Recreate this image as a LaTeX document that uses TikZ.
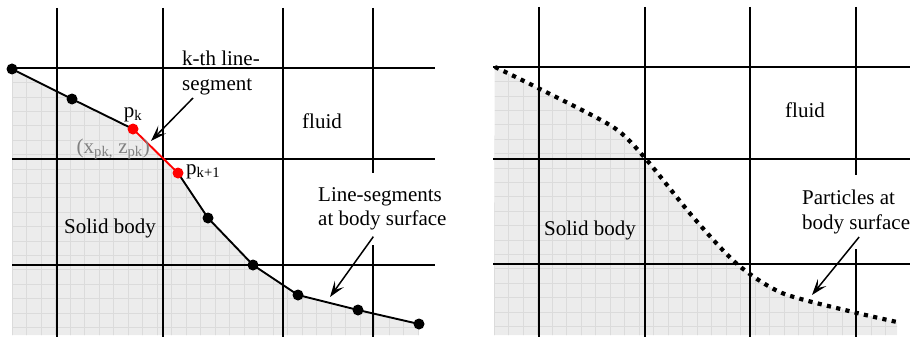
\documentclass[tikz,border=0pt]{standalone}
\usepackage{fontspec}
\setmainfont{Liberation Serif}
\usetikzlibrary{arrows.meta}
\tikzset{
  gridline/.style={line width=2.2pt, black},
  boldgrid/.style={line width=2.7pt, black},
  finegrid/.style={gray!28, line width=0.5pt},
  body/.style={fill=gray!15},
  surfline/.style={line width=1.9pt},
  surfdot/.style={circle, fill=black, inner sep=0pt, minimum size=11pt},
  reddot/.style={circle, fill=red, inner sep=0pt, minimum size=11pt},
  dotline/.style={line width=4.2pt, dash pattern=on 4.2pt off 5.3pt},
  callout/.style={align=left, fill=white, inner xsep=2pt, inner ysep=15pt},
  arrow/.style={line width=1.5pt, -{Stealth[length=16pt,width=11pt,inset=7pt]}}
}

\begin{document}
\begin{tikzpicture}[x=1pt, y=-1pt, every node/.style={font=\fontsize{21}{24.5}\selectfont, inner sep=0pt}]
  \useasboundingbox (0,0) rectangle (910,337);

  % surface points, left panel
  \coordinate (p1) at (12,69);
  \coordinate (p2) at (72,99);
  \coordinate (p3) at (133,129);
  \coordinate (p4) at (178,173);
  \coordinate (p5) at (208,218);
  \coordinate (p6) at (253,265);
  \coordinate (p7) at (298,295);
  \coordinate (p8) at (358,310);
  \coordinate (p9) at (419,324);

  % --- left panel: solid body ---
  \begin{scope}
    \clip (p1) -- (p2) -- (p3) -- (p4) -- (p5) -- (p6) -- (p7) -- (p8) -- (p9) -- (419,335) -- (12,335) -- cycle;
    \fill[body] (0,0) rectangle (460,337);
    \foreach \i in {0,...,30} \draw[finegrid] ({12+14.5*\i},0) -- ({12+14.5*\i},337);
    \foreach \j in {0,...,19} \draw[finegrid] (0,{68+14.4*\j}) -- (460,{68+14.4*\j});
  \end{scope}

  % cells
  \foreach \x in {57,163,283,373} \draw[gridline] (\x,8) -- (\x,337);
  \foreach \y in {68,159,265} \draw[gridline] (12,\y) -- (435,\y);

  % labels
  \node (fluidL) at (322,121) {fluid};
  \node (solidL) at (110,228) {Solid body};
  \node (kseg) [anchor=west, align=left] at (182,73) {k-th line-\\segment};
  \node (segs) [callout, anchor=west] at (316,209) {Line-segments\\at body surface};

  % surface line-segments
  \draw[surfline] (p1) -- (p2) -- (p3);
  \draw[surfline] (p4) -- (p5) -- (p6) -- (p7) -- (p8) -- (p9);
  \draw[surfline, red] (p3) -- (p4);
  \foreach \p in {p1,p2,p5,p6,p7,p8,p9} \node[surfdot] at (\p) {};
  \node (dk) [reddot] at (p3) {};
  \node (dk1) [reddot] at (p4) {};

  \node (pk) at (133,115) {p\textsubscript{k}};
  \node (pk1) [anchor=west] at (186,172) {p\textsubscript{k+1}};
  \node (xz) [anchor=east, text=gray] at (150,149) {(x\textsubscript{pk,} z\textsubscript{pk})};

  \coordinate (ktip) at (151,141);
  \coordinate (stip) at (330,297);
  \draw[arrow] ([xshift=11pt, yshift=-3pt]kseg.south west) -- (ktip);
  \draw[arrow] ([xshift=-9pt, yshift=9pt]segs.south) -- (stip);

  % --- right panel: particles ---
  \begin{scope}
    \clip plot[smooth, tension=0.45] coordinates {(495,67) (538,88) (613,127) (645,158) (693,217) (737,264) (782,293) (853,312) (897,322)} -- (897,335) -- (494,335) -- cycle;
    \fill[body] (460,0) rectangle (910,337);
    \foreach \i in {0,...,30} \draw[finegrid] ({494+14.5*\i},0) -- ({494+14.5*\i},337);
    \foreach \j in {0,...,19} \draw[finegrid] (460,{67+14.4*\j}) -- (910,{67+14.4*\j});
  \end{scope}

  \foreach \x in {539,645,750,856} \draw[boldgrid] (\x,7) -- (\x,337);
  \foreach \y in {67,159,264} \draw[boldgrid] (493,\y) -- (910,\y);

  \node (fluidR) at (805,110) {fluid};
  \node (solidR) at (590,230) {Solid body};
  \node (parts) [callout, anchor=west] at (800,212) {Particles at\\body surface};

  \draw[dotline] plot[smooth, tension=0.45] coordinates {(495,67) (538,88) (613,127) (645,158) (693,217) (737,264) (782,293) (853,312) (897,322)};

  \coordinate (ptip) at (812,295);
  \draw[arrow] ([xshift=3pt, yshift=12pt]parts.south) -- (ptip);
\end{tikzpicture}
\end{document}
